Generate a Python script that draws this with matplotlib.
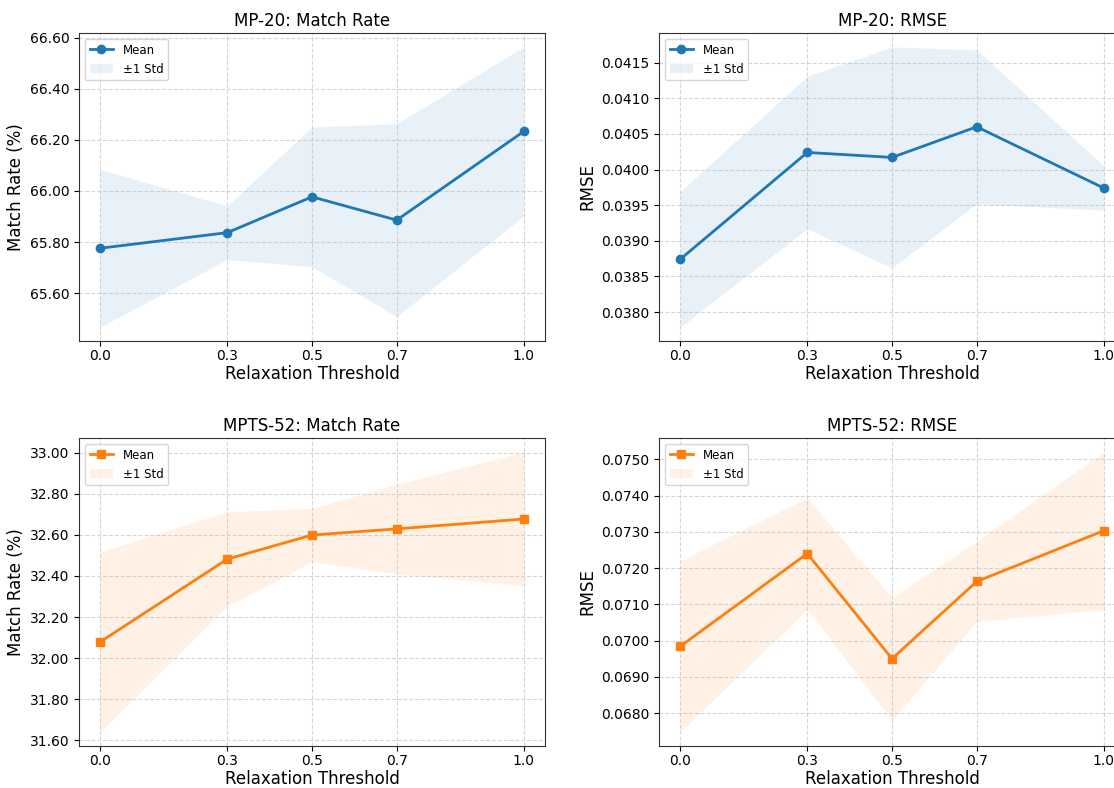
import matplotlib
matplotlib.use("Agg")
import matplotlib.pyplot as plt
from matplotlib.ticker import FormatStrFormatter
import numpy as np

thresholds = [0.0, 0.3, 0.5, 0.7, 1.0]

# MP-20
mp20_match_mean = [65.776, 65.837, 65.977, 65.886, 66.233]
mp20_match_std = [0.308, 0.105, 0.273, 0.377, 0.330]
mp20_rmse_mean = [0.03874, 0.04024, 0.04017, 0.04060, 0.03974]
mp20_rmse_std = [0.00095, 0.00107, 0.00155, 0.00108, 0.00031]

# MPTS-52
mpts_match_mean = [32.079, 32.482, 32.599, 32.629, 32.677]
mpts_match_std = [0.438, 0.230, 0.130, 0.218, 0.326]
mpts_rmse_mean = [0.06984, 0.07240, 0.06950, 0.07163, 0.07303]
mpts_rmse_std = [0.00236, 0.00154, 0.00169, 0.00111, 0.00217]

fig = plt.figure(figsize=(11.14, 7.88), dpi=100)

# axes placed by hand, right column runs a bit off the canvas like the original
W, H = 1114.0, 788.0
boxes = [(79, 33), (659, 33), (79, 438), (659, 438)]
aw, ah = 466, 308

panels = [
    ("MP-20: Match Rate", "Match Rate (%)", mp20_match_mean, mp20_match_std, "#1f77b4", "o", "%.2f"),
    ("MP-20: RMSE", "RMSE", mp20_rmse_mean, mp20_rmse_std, "#1f77b4", "o", "%.4f"),
    ("MPTS-52: Match Rate", "Match Rate (%)", mpts_match_mean, mpts_match_std, "#ff7f0e", "s", "%.2f"),
    ("MPTS-52: RMSE", "RMSE", mpts_rmse_mean, mpts_rmse_std, "#ff7f0e", "s", "%.4f"),
]

for (px, py), (title, ylab, mean, std, col, mk, fmt) in zip(boxes, panels):
    ax = fig.add_axes([px / W, 1 - (py + ah) / H, aw / W, ah / H])
    m = np.array(mean)
    s = np.array(std)
    ax.plot(thresholds, m, marker=mk, color=col, linewidth=2, markersize=6, label="Mean")
    ax.fill_between(thresholds, m - s, m + s, color=col, alpha=0.1, linewidth=0, label="±1 Std")
    ax.set_title(title, fontsize=12, pad=5)
    ax.set_xlabel("Relaxation Threshold", fontsize=12, labelpad=2)
    ax.set_ylabel(ylab, fontsize=12, labelpad=3)
    ax.set_xticks(thresholds)
    ax.tick_params(axis="x", pad=2)
    ax.yaxis.set_major_formatter(FormatStrFormatter(fmt))
    ax.grid(True, linestyle="--", alpha=0.5)
    for sp in ax.spines.values():
        sp.set_color("#333333")
    ax.legend(loc="upper left", fontsize=8.5)

fig.savefig("out.png", dpi=100)
